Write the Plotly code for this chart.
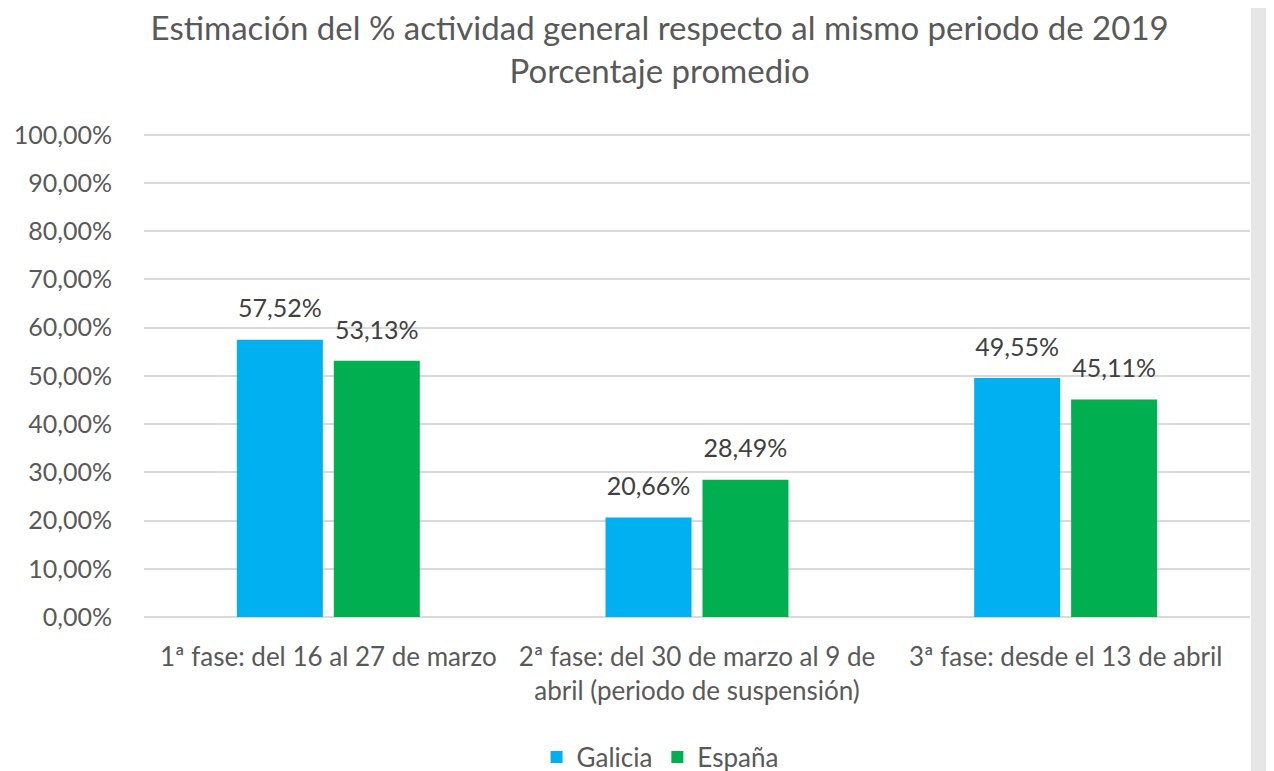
"""Barras agrupadas: estimación del % de actividad general (Galicia vs España)."""

import plotly.graph_objects as go

# === Datos ===
categorias = [
    "1ª fase: del 16 al 27 de marzo",
    "2ª fase: del 30 de marzo al 9 de<br>abril (periodo de suspensión)",
    "3ª fase: desde el 13 de abril",
]
galicia = [0.5752, 0.2066, 0.4955]
espana = [0.5313, 0.2849, 0.4511]
ticks_y = [0, 0.1, 0.2, 0.3, 0.4, 0.5, 0.6, 0.7, 0.8, 0.9, 1.0]

# === Colores estilo Excel ===
COLORS = {
    'galicia': '#00B0F0',
    'espana': '#00B050',
    'grid': '#D9D9D9',
    'axis_text': '#595959',
    'label': '#404040',
    'strip': '#E6E6E6',
}
FONT = "Lato, 'Open Sans', sans-serif"


def pct(v):
    return f"{v * 100:.2f}%".replace('.', ',')


fig = go.Figure()

series = [('Galicia', galicia, COLORS['galicia']),
          ('España', espana, COLORS['espana'])]

# Barras
for name, vals, color in series:
    fig.add_trace(go.Bar(
        x=categorias,
        y=vals,
        name=name,
        marker=dict(color=color, line=dict(width=0)),
        hovertemplate='%{y:.2%}<extra>' + name + '</extra>',
    ))

# Etiquetas de valor (scatter agrupado, separadas un poco de la barra)
for name, vals, color in series:
    fig.add_trace(go.Scatter(
        x=categorias,
        y=vals,
        mode='markers+text',
        marker=dict(size=24, color='rgba(0,0,0,0)'),
        text=[pct(v) for v in vals],
        textposition='top center',
        textfont=dict(size=25, color=COLORS['label'], family=FONT),
        showlegend=False,
        hoverinfo='skip',
        cliponaxis=False,
    ))

fig.update_layout(
    title=dict(
        text="Estimación del % actividad general respecto al mismo periodo de 2019"
             "<br>Porcentaje promedio",
        font=dict(size=33, color=COLORS['axis_text'], family=FONT),
        x=0.5115, xanchor='center', xref='container',
        yref='container', y=0.960, yanchor='top',
    ),
    separators=',.',
    paper_bgcolor='white',
    plot_bgcolor='white',
    width=1274,
    height=790,
    margin=dict(l=136, r=32, t=122, b=181),
    barmode='group',
    bargap=0.474,
    bargroupgap=0.113,
    scattermode='group',
    xaxis=dict(
        tickfont=dict(size=26, color=COLORS['axis_text'], family=FONT),
        showline=False,
        ticks='',
        showgrid=False,
        ticklabelstandoff=22,
        automargin=False,
    ),
    yaxis=dict(
        range=[0, 1.01],
        tickvals=ticks_y,
        tickformat='.2%',
        tickfont=dict(size=25, color=COLORS['axis_text'], family=FONT),
        showgrid=True,
        gridcolor=COLORS['grid'],
        gridwidth=1.8,
        zeroline=True,
        zerolinecolor=COLORS['grid'],
        zerolinewidth=1.8,
        ticks='',
        ticklabelstandoff=31,
        automargin=False,
    ),
    showlegend=True,
    legend=dict(
        orientation='h',
        xanchor='center', x=0.4666,
        yanchor='middle', y=-0.2875,
        font=dict(size=26, color=COLORS['axis_text'], family=FONT),
        itemwidth=30,
    ),
    shapes=[dict(
        type='rect', xref='paper', yref='paper',
        x0=1.0009, x1=1.04, y0=-0.6, y1=1.5,
        fillcolor=COLORS['strip'], line=dict(width=0), layer='above',
    )],
)

fig.write_html("out.html")
